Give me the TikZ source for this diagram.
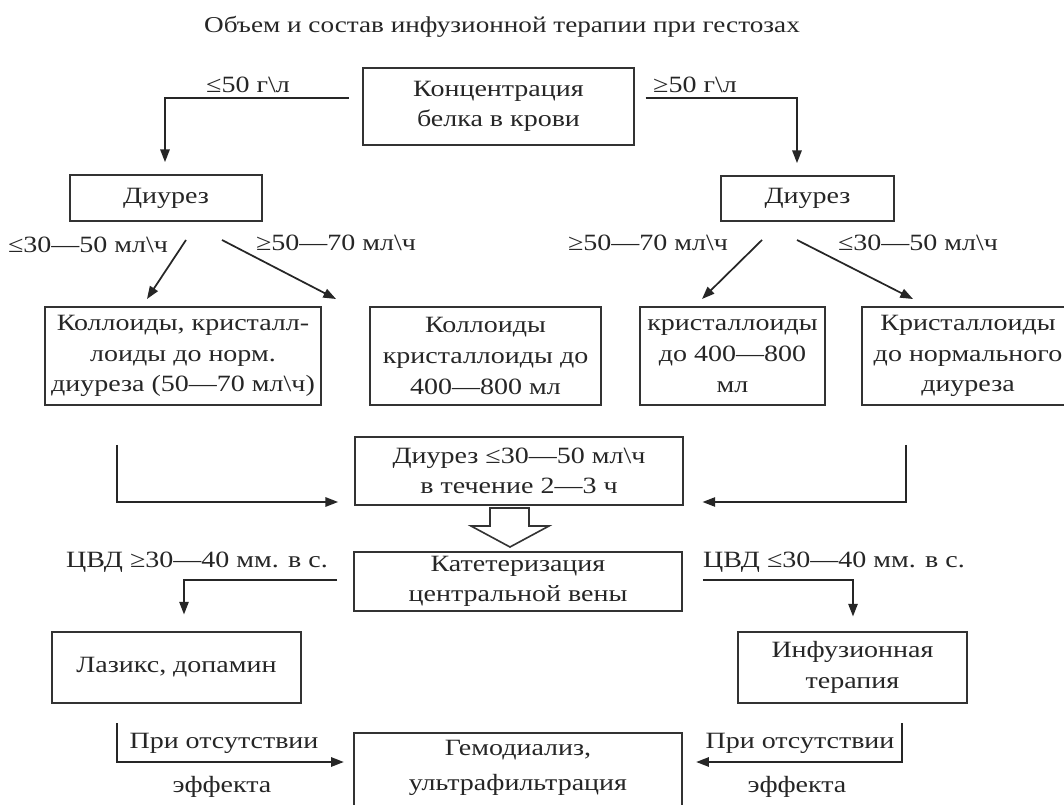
\documentclass[tikz,border=0pt]{standalone}
\usepackage{fontspec}
\setmainfont[FakeStretch=1.2]{Liberation Serif}
\usetikzlibrary{arrows.meta}
\def\pxx{0.75pt}
\tikzset{
  box/.style={draw=black!80, line width=1.3pt, fill=white},
  arr/.style={draw=black!85, line width=1.3pt, -{Triangle[length=9.5pt,width=7pt]}},
  ln/.style={draw=black!80, line width=1.3pt}}
\begin{document}
\begin{tikzpicture}[x=0.75pt,y=-0.75pt,
  every node/.style={font=\fontsize{17.5}{23}\selectfont, align=center, inner sep=0pt, text=black!85}]
\clip (0,0) rectangle (1064,805);
\fill[white] (0,0) rectangle (1064,805);

% title
\node[font=\fontsize{17}{20}\selectfont] (title) at (502,27) {Объем и состав инфузионной терапии при гестозах};

% top
\node[box, minimum width=271*\pxx, minimum height=77*\pxx] (conc) at (498.5,106.5) {Концентрация\\белка в крови};
\node[box, minimum width=192*\pxx, minimum height=46*\pxx] (dL) at (166,198) {Диурез};
\node[box, minimum width=173*\pxx, minimum height=45*\pxx] (dR) at (807.5,198.5) {Диурез};
\coordinate (cL) at (165,98);
\coordinate (cR) at (797,98);
\draw[arr, shorten <=10pt, shorten >=9pt] (conc.west |- cL) -| (dL.north -| cL);
\draw[arr, shorten <=8pt, shorten >=9pt] (conc.east |- cR) -| (dR.north -| cR);
\node (tL) at (248,85) {≤50 г\textbackslash л};
\node (tR) at (695,85) {≥50 г\textbackslash л};

% diuresis branches
\node (l1) at (88,245) {≤30—50 мл\textbackslash ч};
\node (l2) at (336,243) {≥50—70 мл\textbackslash ч};
\node (l3) at (648,243) {≥50—70 мл\textbackslash ч};
\node (l4) at (918,243) {≤30—50 мл\textbackslash ч};
\coordinate (a1s) at (186,240); \coordinate (a1e) at (147,299);
\coordinate (a2s) at (222,240); \coordinate (a2e) at (336,299);
\coordinate (a3s) at (762,240); \coordinate (a3e) at (702,299);
\coordinate (a4s) at (797,240); \coordinate (a4e) at (913,299);
\draw[arr] (a1s) -- (a1e);
\draw[arr] (a2s) -- (a2e);
\draw[arr] (a3s) -- (a3e);
\draw[arr] (a4s) -- (a4e);

% row of four boxes
\node[box, minimum width=276*\pxx, minimum height=98*\pxx] (b1) at (183,356) {Коллоиды, кристалл-\\лоиды до норм.\\диуреза (50—70 мл\textbackslash ч)};
\node[box, minimum width=231*\pxx, minimum height=98*\pxx] (b2) at (485.5,356) {Коллоиды\\кристаллоиды до\\400—800 мл};
\node[box, minimum width=185*\pxx, minimum height=98*\pxx] (b3) at (732.5,356) {кристаллоиды\\до 400—800\\мл};
\node[box, minimum width=212*\pxx, minimum height=98*\pxx] (b4) at (968,356) {Кристаллоиды\\до нормального\\диуреза};

% diuresis 2-3 h
\node[box, minimum width=328*\pxx, minimum height=68*\pxx] (d3) at (519,471) {Диурез ≤30—50 мл\textbackslash ч\\в течение 2—3 ч};
\coordinate (lcL) at (117,445);
\coordinate (lcR) at (906,445);
\coordinate (ylc) at (0,502);
\draw[arr, shorten >=12pt] (lcL) |- (d3.west |- ylc);
\draw[arr, shorten >=14pt] (lcR) |- (d3.east |- ylc);

% hollow arrow
\draw[ln, line width=1.2pt] (490,508) -- (490,526) -- (471,526) -- (510,547) -- (549,526) -- (529,526) -- (529,508) -- cycle;

% catheterization
\node[box, minimum width=328*\pxx, minimum height=59*\pxx] (kat) at (518,581.5) {Катетеризация\\центральной вены};
\node (cvL) at (197,562) {ЦВД ≥30—40 мм. в с.};
\node (cvR) at (834,562) {ЦВД ≤30—40 мм. в с.};
\node[box, minimum width=249*\pxx, minimum height=71*\pxx] (laz) at (176.5,667.5) {Лазикс, допамин};
\node[box, minimum width=229*\pxx, minimum height=71*\pxx] (inf) at (852.5,667.5) {Инфузионная\\терапия};
\coordinate (kL) at (184,580);
\coordinate (kR) at (853,580);
\draw[arr, shorten <=12pt, shorten >=12.5pt] (kat.west |- kL) -| (laz.north -| kL);
\draw[arr, shorten <=15pt, shorten >=11pt] (kat.east |- kR) -| (inf.north -| kR);

% bottom
\node[box, minimum width=328*\pxx, minimum height=87*\pxx] (gem) at (518,776.5) {};
\node (gemtxt) at (518,768) {Гемодиализ,\\[3pt]ультрафильтрация};
\coordinate (bL) at (117,723);
\coordinate (bR) at (902,723);
\coordinate (yb) at (0,762);
\draw[arr, shorten >=7pt] (bL) |- (gem.west |- yb);
\draw[arr, shorten >=10pt] (bR) |- (gem.east |- yb);
\node (pL) at (224,743) {При отсутствии};
\node (eL) at (222,787) {эффекта};
\node (pR) at (800,743) {При отсутствии};
\node (eR) at (797,787) {эффекта};
\end{tikzpicture}
\end{document}
